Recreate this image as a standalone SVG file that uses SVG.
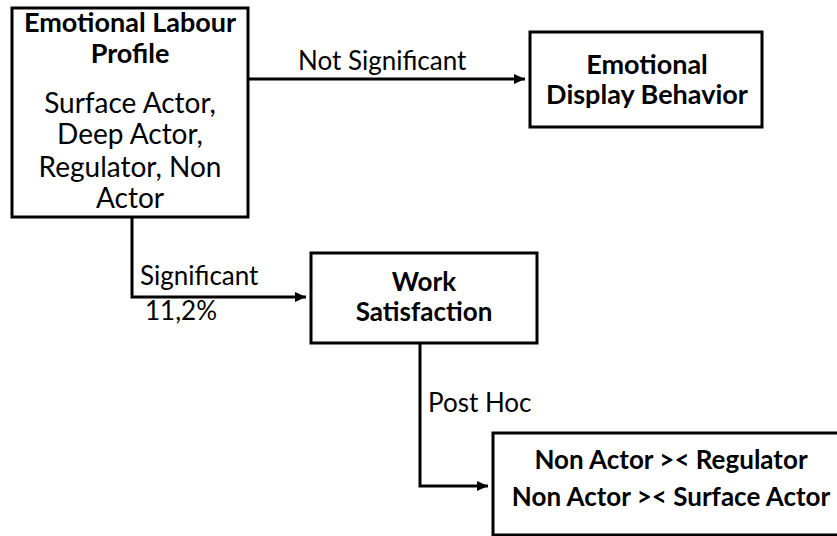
<svg xmlns="http://www.w3.org/2000/svg" width="837" height="536" viewBox="0 0 837 536">
  <defs>
    <marker id="arrow" markerUnits="userSpaceOnUse" markerWidth="11" markerHeight="10" refX="11" refY="5" orient="auto">
      <path d="M0,0 L11,5 L0,10 z" fill="#000"/>
    </marker>
    <style>
      .box { fill: #fff; stroke: #000; stroke-width: 3; }
      .conn { fill: none; stroke: #000; stroke-width: 3; }
      .b { font-family: Lato, "Liberation Sans", sans-serif; font-weight: bold; font-size: 26px; fill: #000; text-anchor: middle; }
      .b27 { font-size: 27px; }
      .r { font-family: Lato, "Liberation Sans", sans-serif; font-size: 28px; fill: #000; text-anchor: middle; }
      .lbl { font-family: Lato, "Liberation Sans", sans-serif; font-size: 26px; fill: #000; }
    </style>
  </defs>

  <g id="connectors">
    <g id="c-not-significant">
      <path class="conn" d="M248,79 H525" marker-end="url(#arrow)"/>
      <text class="lbl" x="298" y="70">Not Significant</text>
    </g>
    <g id="c-significant">
      <path class="conn" d="M132,217 V297 H306" marker-end="url(#arrow)"/>
      <text class="lbl" x="140" y="285">Significant</text>
      <text class="lbl" x="145" y="320">11,2%</text>
    </g>
    <g id="c-post-hoc">
      <path class="conn" d="M420,343 V486 H488" marker-end="url(#arrow)"/>
      <text class="lbl" x="428" y="412">Post Hoc</text>
    </g>
  </g>

  <g id="emotional-labour-profile">
    <rect class="box" x="12" y="8" width="236" height="209"/>
    <text class="b b27" x="130" y="32">Emotional Labour</text>
    <text class="b b27" x="130" y="63">Profile</text>
    <text class="r" x="130" y="113">Surface Actor,</text>
    <text class="r" x="130" y="144">Deep Actor,</text>
    <text class="r" x="130" y="177">Regulator, Non</text>
    <text class="r" x="130" y="208">Actor</text>
  </g>

  <g id="emotional-display-behavior">
    <rect class="box" x="530" y="32" width="232" height="95"/>
    <text class="b b27" x="647" y="74">Emotional</text>
    <text class="b b27" x="647" y="104">Display Behavior</text>
  </g>

  <g id="work-satisfaction">
    <rect class="box" x="311" y="253" width="226" height="90"/>
    <text class="b" x="424" y="291">Work</text>
    <text class="b" x="424" y="321">Satisfaction</text>
  </g>

  <g id="post-hoc-results">
    <rect class="box" x="493" y="433" width="360" height="102"/>
    <text class="b" x="671" y="469">Non Actor &gt;&lt; Regulator</text>
    <text class="b" x="671" y="506">Non Actor &gt;&lt; Surface Actor</text>
  </g>
</svg>
